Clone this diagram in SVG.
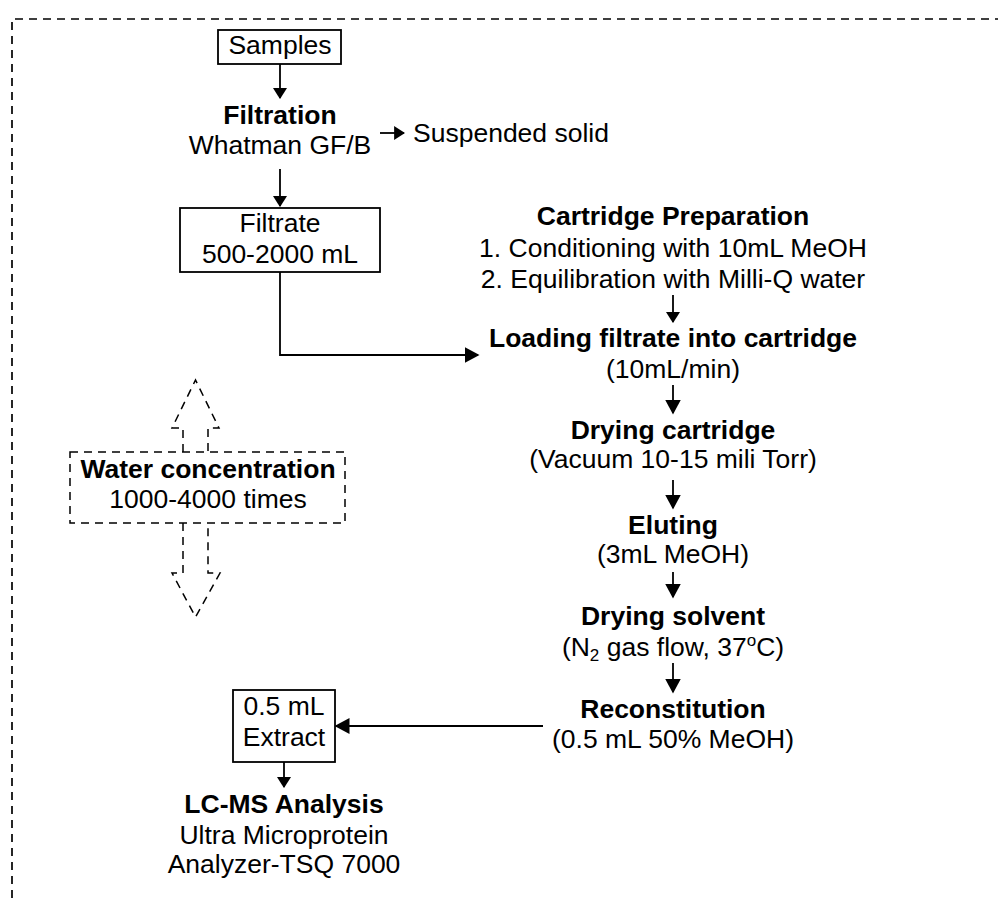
<svg xmlns="http://www.w3.org/2000/svg" width="998" height="898" viewBox="0 0 998 898">
<style>
text{font-family:"Liberation Sans",Arial,sans-serif;font-size:26.5px;fill:#000;text-anchor:middle}
.b{font-weight:bold}
.box{fill:#fff;stroke:#000;stroke-width:1.8}
.ln{fill:none;stroke:#000;stroke-width:1.8}
.dash{fill:none;stroke:#000;stroke-width:1.7;stroke-dasharray:8 6}
.dsm{fill:none;stroke:#000;stroke-width:1.5;stroke-dasharray:8 6}
</style>
<defs>
<marker id="sm" viewBox="0 0 10 10" refX="9" refY="5" markerUnits="userSpaceOnUse" markerWidth="11" markerHeight="14" orient="auto" preserveAspectRatio="none"><path d="M0,0 L10,5 L0,10 z" fill="#000"/></marker>
<marker id="lg" viewBox="0 0 10 10" refX="9" refY="5" markerUnits="userSpaceOnUse" markerWidth="15" markerHeight="16" orient="auto" preserveAspectRatio="none"><path d="M0,0 L10,5 L0,10 z" fill="#000"/></marker>
</defs>
<rect width="998" height="898" fill="#fff"/>
<path id="border" class="dash" d="M12,898 L12,19 L998,19"/>

<g id="samples"><rect class="box" x="218" y="30" width="123" height="34"/><text x="280" y="54">Samples</text></g>
<g id="filtration"><text class="b" x="280" y="124">Filtration</text><text x="280" y="154">Whatman GF/B</text></g>
<g id="suspended"><text x="413" y="142" style="text-anchor:start">Suspended solid</text></g>
<g id="filtrate"><rect class="box" x="180" y="208" width="200" height="64"/><text x="280" y="232">Filtrate</text><text x="280" y="263">500-2000 mL</text></g>
<g id="cartridge-prep"><text class="b" x="673" y="225">Cartridge Preparation</text><text x="673" y="257">1. Conditioning with 10mL MeOH</text><text x="673" y="288">2. Equilibration with Milli-Q water</text></g>
<g id="loading"><text class="b" x="673" y="347">Loading filtrate into cartridge</text><text x="673" y="378">(10mL/min)</text></g>
<g id="drying-cartridge"><text class="b" x="673" y="439">Drying cartridge</text><text x="673" y="468">(Vacuum 10-15 mili Torr)</text></g>
<g id="eluting"><text class="b" x="673" y="534">Eluting</text><text x="673" y="563">(3mL MeOH)</text></g>
<g id="drying-solvent"><text class="b" x="673" y="625">Drying solvent</text><text x="673" y="656">(N<tspan font-size="17" dy="5">2</tspan><tspan dy="-5"> gas flow, 37</tspan><tspan font-size="17" dy="-10">o</tspan><tspan dy="10">C)</tspan></text></g>
<g id="reconstitution"><text class="b" x="673" y="718">Reconstitution</text><text x="673" y="748">(0.5 mL 50% MeOH)</text></g>
<g id="extract"><rect class="box" x="233" y="690" width="102" height="72"/><text x="284" y="715">0.5 mL</text><text x="284" y="746">Extract</text></g>
<g id="lcms"><text class="b" x="284" y="813">LC-MS Analysis</text><text x="284" y="844">Ultra Microprotein</text><text x="284" y="873">Analyzer-TSQ 7000</text></g>
<g id="water-concentration">
<rect class="dsm" x="70" y="452" width="275" height="71"/>
<polyline class="dsm" points="183,452 183,428 172,428 195.5,380 219,428 208,428 208,452"/>
<polyline class="dsm" points="183,523 183,573 172,573 195.5,617 220,573 208,573 208,523"/>
<text class="b" x="208" y="478">Water concentration</text><text x="208" y="508">1000-4000 times</text>
</g>

<g id="connectors">
<line class="ln" x1="280" y1="64" x2="280" y2="98" marker-end="url(#sm)"/>
<line class="ln" x1="280" y1="169" x2="280" y2="206" marker-end="url(#sm)"/>
<line class="ln" x1="380" y1="133" x2="404" y2="133" marker-end="url(#sm)"/>
<polyline class="ln" points="280,272 280,355 478,355" marker-end="url(#lg)"/>
<line class="ln" x1="673" y1="295" x2="673" y2="322" marker-end="url(#sm)"/>
<line class="ln" x1="673" y1="385" x2="673" y2="413" marker-end="url(#lg)"/>
<line class="ln" x1="673" y1="480" x2="673" y2="508" marker-end="url(#lg)"/>
<line class="ln" x1="673" y1="572" x2="673" y2="597" marker-end="url(#lg)"/>
<line class="ln" x1="673" y1="663" x2="673" y2="692" marker-end="url(#lg)"/>
<line class="ln" x1="543" y1="726" x2="336" y2="726" marker-end="url(#lg)"/>
<line class="ln" x1="284" y1="762" x2="284" y2="787" marker-end="url(#sm)"/>
</g>
</svg>
